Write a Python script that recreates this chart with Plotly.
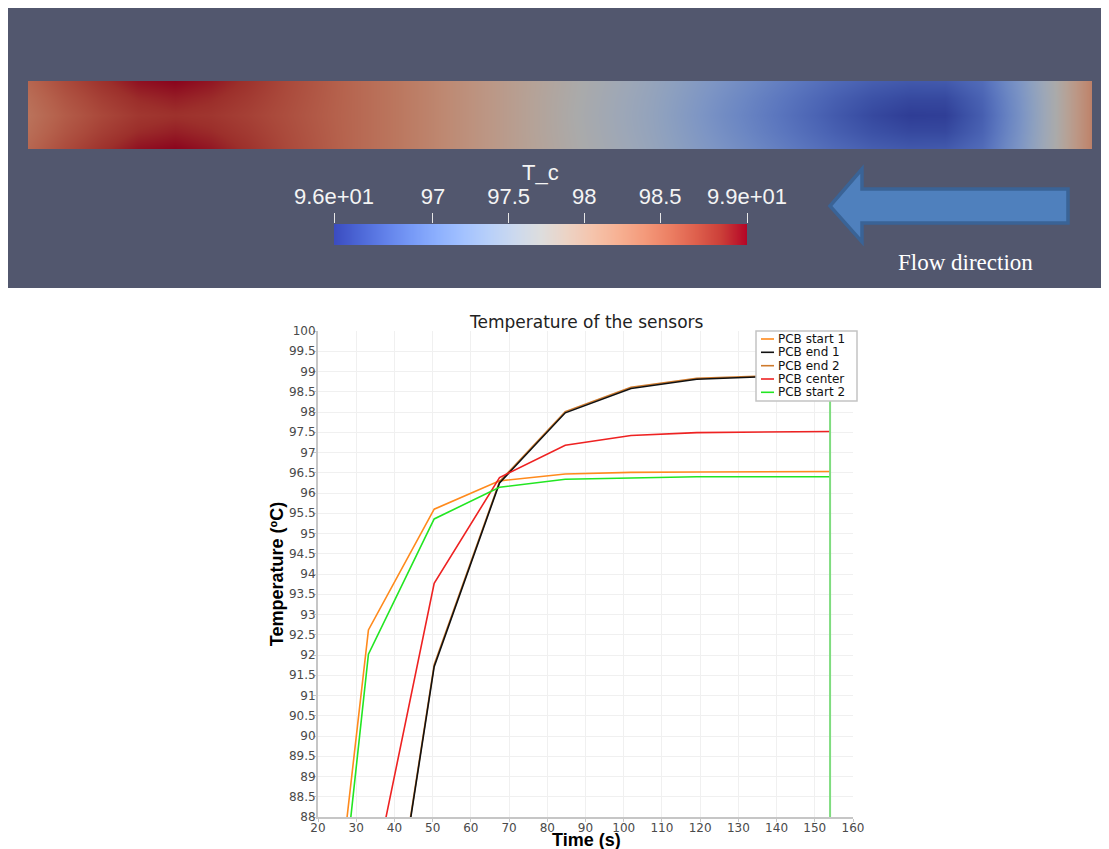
import plotly.graph_objects as go

# ---------------- data ----------------
time_s = [16.0, 33.2, 50.4, 67.5, 84.7, 101.9, 119.1, 136.5, 154.0]
pcb_start_1 = [78.4, 92.62, 95.60, 96.30, 96.47, 96.51, 96.52, 96.53, 96.53]
pcb_end_1 = [77.0, 81.25, 91.71, 96.25, 97.98, 98.58, 98.81, 98.87, 98.90]
pcb_end_2 = [77.1, 81.30, 91.76, 96.28, 98.01, 98.61, 98.83, 98.89, 98.92]
pcb_center = [80.5, 85.89, 93.77, 96.38, 97.18, 97.42, 97.49, 97.51, 97.52]
pcb_start_2 = [77.0, 92.02, 95.36, 96.14, 96.34, 96.37, 96.40, 96.40, 96.40]

series_names = ["PCB start 1", "PCB end 1", "PCB end 2", "PCB center", "PCB start 2"]

# temperature field T_c along the PCB strip (30 stations, left -> right)
strip_center = [98.42, 98.60, 98.74, 98.85, 98.89, 98.86, 98.79, 98.70, 98.60, 98.50,
                98.39, 98.26, 98.12, 97.98, 97.84, 97.70, 97.56, 97.43, 97.26, 97.08,
                96.92, 96.76, 96.60, 96.46, 96.37, 96.38, 96.64, 97.14, 97.70, 98.30]
strip_quarter = [98.46, 98.65, 98.80, 98.92, 98.97, 98.92, 98.83, 98.72, 98.61, 98.50,
                 98.39, 98.26, 98.12, 97.98, 97.84, 97.71, 97.57, 97.44, 97.28, 97.11,
                 96.95, 96.80, 96.65, 96.53, 96.46, 96.46, 96.68, 97.16, 97.70, 98.30]
strip_edge = [98.52, 98.72, 98.88, 99.02, 99.07, 99.00, 98.88, 98.74, 98.62, 98.50,
              98.39, 98.26, 98.12, 97.98, 97.85, 97.72, 97.59, 97.46, 97.31, 97.16,
              97.01, 96.87, 96.74, 96.64, 96.59, 96.60, 96.76, 97.20, 97.71, 98.30]

t_min, t_max = 96.347, 99.074
cbar_tickvals = [96.347, 97, 97.5, 98, 98.5, 99.074]
cbar_ticktext = ["9.6e+01", "97", "97.5", "98", "98.5", "9.9e+01"]

# ---------------- styles ----------------
PAGE_W, PAGE_H, BODY = 1109, 849, 8      # browser window and default body margin
W, H = PAGE_W - BODY, PAGE_H - BODY      # figure reaches the window's right/bottom edge
def X(px): return (px - BODY) / W
def Y(py): return 1 - (py - BODY) / H

coolwarm = [(59,76,192),(77,104,215),(98,130,234),(119,154,247),(141,176,254),
            (163,194,255),(184,208,249),(204,217,238),(221,221,221),(236,211,197),
            (245,196,172),(247,177,147),(244,154,123),(236,127,99),(222,96,77),
            (203,62,56),(180,4,38)]
n = len(coolwarm) - 1
cs_bar = [[i / n, "rgb(%d,%d,%d)" % c] for i, c in enumerate(coolwarm)]
shade = 0.77
cs_strip = [[i / n, "rgb(%d,%d,%d)" % tuple(int(v * shade) for v in c)] for i, c in enumerate(coolwarm)]

colors = {"PCB start 1": "#ff8a1c", "PCB end 1": "#111111", "PCB end 2": "#cf7a2c",
          "PCB center": "#ee2222", "PCB start 2": "#22e622"}

fig = go.Figure()

# strip heatmap
fig.add_trace(go.Heatmap(
    z=[strip_edge, strip_quarter, strip_center, strip_quarter, strip_edge],
    x=list(range(len(strip_center))), y=[0, 1, 2, 3, 4],
    colorscale=cs_strip, zmin=t_min, zmax=t_max, zsmooth="best",
    showscale=False, hoverinfo="skip", xaxis="x2", yaxis="y2"))

# color legend bar
fig.add_trace(go.Heatmap(
    z=[[t_min, t_max], [t_min, t_max]], x=[t_min, t_max], y=[0, 1],
    colorscale=cs_bar, zmin=t_min, zmax=t_max, zsmooth="best",
    showscale=False, hoverinfo="skip", xaxis="x3", yaxis="y3"))

# sensor lines
data = {"PCB start 1": pcb_start_1, "PCB end 1": pcb_end_1, "PCB end 2": pcb_end_2,
        "PCB center": pcb_center, "PCB start 2": pcb_start_2}
draw_order = ["PCB start 1", "PCB end 2", "PCB end 1", "PCB center", "PCB start 2"]
for name in draw_order:
    fig.add_trace(go.Scatter(
        x=time_s, y=data[name], mode="lines", name=name, showlegend=False,
        line=dict(color=colors[name], width=1.6)))

tickfont = dict(family="DejaVu Sans", size=12, color="#4a4a4a")
axis_title_font = dict(family="Liberation Sans", size=18, color="#000", weight="bold")
fig.update_layout(
    width=W, height=H, autosize=False,
    margin=dict(l=0, r=0, t=0, b=0, autoexpand=False),
    paper_bgcolor="white", plot_bgcolor="white",
    showlegend=False,
    xaxis=dict(domain=[X(318), X(853)], range=[20, 160], dtick=10, tick0=20, automargin=False,
               showline=True, linecolor="#c6c6c6", linewidth=2,
               ticks="outside", ticklen=3, tickcolor="#c6c6c6", ticklabelstandoff=-4,
               showgrid=True, gridcolor="#f0f0f0", zeroline=False,
               tickfont=tickfont),
    yaxis=dict(domain=[Y(817), Y(331)], range=[88, 100], dtick=0.5, tick0=88, automargin=False,
               showline=True, linecolor="#c6c6c6", linewidth=2,
               ticks="outside", ticklen=3, tickcolor="#c6c6c6", ticklabelstandoff=-5,
               showgrid=True, gridcolor="#f0f0f0", zeroline=False,
               tickfont=tickfont,
               title=dict(text="Temperature (ºC)", standoff=1, font=axis_title_font)),
    xaxis2=dict(domain=[X(28), X(1092)], range=[0, len(strip_center) - 1], visible=False,
                anchor="y2", automargin=False),
    yaxis2=dict(domain=[Y(149), Y(81)], range=[0, 4], visible=False, anchor="x2", automargin=False),
    xaxis3=dict(domain=[X(334), X(747)], range=[t_min, t_max], anchor="y3", side="top",
                automargin=False,
                tickvals=cbar_tickvals, ticktext=cbar_ticktext,
                ticks="outside", ticklen=10, tickcolor="#e6e6e6", tickwidth=1,
                showline=False, showgrid=False, zeroline=False,
                tickfont=dict(family="Liberation Sans", size=22, color="#f4f4f4")),
    yaxis3=dict(domain=[Y(245), Y(224)], range=[0, 1], visible=False, anchor="x3", automargin=False),
)

# dark render-view panel
fig.add_shape(type="rect", xref="paper", yref="paper", x0=X(7), x1=X(1102), y0=Y(288), y1=Y(6),
              fillcolor="#52576e", line=dict(width=0), layer="below")

# flow arrow
pts = [(830, 206), (862, 169), (862, 189), (1068, 189), (1068, 223), (862, 223), (862, 242)]
path = "M " + " L ".join("%.5f,%.5f" % (X(a), Y(b)) for a, b in pts) + " Z"
fig.add_shape(type="path", xref="paper", yref="paper", path=path,
              fillcolor="#4f80bd", line=dict(color="#3a6396", width=3.5))

# time marker
fig.add_shape(type="line", xref="x", yref="y domain", x0=time_s[-1], x1=time_s[-1], y0=0, y1=1,
              line=dict(color="#7fdc7f", width=2))

# legend box (compact, as in the reference)
fig.add_shape(type="rect", xref="paper", yref="paper", x0=X(756), x1=X(857), y0=Y(401), y1=Y(331),
              fillcolor="white", line=dict(color="#c4c4c4", width=1.5))
row_y = [339, 352.3, 365.7, 379, 392.3]
for name, ry in zip(series_names, row_y):
    fig.add_shape(type="line", xref="paper", yref="paper", x0=X(761), x1=X(774), y0=Y(ry), y1=Y(ry),
                  line=dict(color=colors[name], width=1.6))
    fig.add_annotation(text=name, x=X(776), y=Y(ry), xref="paper", yref="paper", showarrow=False,
                       xanchor="left", yanchor="middle",
                       font=dict(family="DejaVu Sans", size=12, color="#111"))

# x-axis title
fig.add_annotation(text="Time (s)", x=X(586), y=Y(840), xref="paper", yref="paper", showarrow=False,
                   xanchor="center", yanchor="middle", font=axis_title_font)

fig.add_annotation(text="T_c", x=X(540), y=Y(172), xref="paper", yref="paper", showarrow=False,
                   xanchor="center", yanchor="middle",
                   font=dict(family="Liberation Sans", size=22, color="#f4f4f4"))
fig.add_annotation(text="Flow direction", x=X(965), y=Y(262), xref="paper", yref="paper", showarrow=False,
                   xanchor="center", yanchor="middle",
                   font=dict(family="Liberation Serif", size=23, color="#ffffff"))
fig.add_annotation(text="Temperature of the sensors", x=X(586), y=Y(322), xref="paper", yref="paper",
                   showarrow=False, xanchor="center", yanchor="middle",
                   font=dict(family="DejaVu Sans", size=17, color="#222"))

fig.write_html("out.html")
